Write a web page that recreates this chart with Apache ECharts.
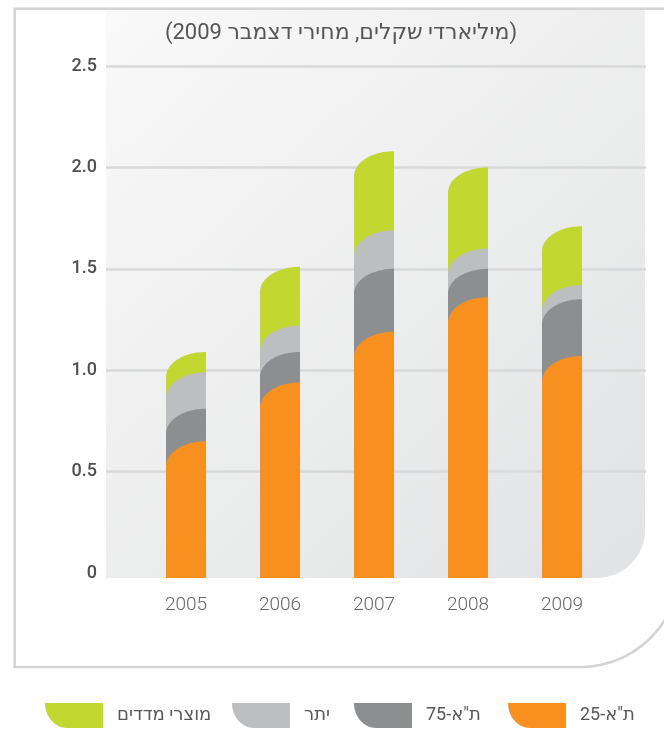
<!DOCTYPE html>
<html>
<head>
<meta charset="utf-8">
<script src="https://cdn.jsdelivr.net/npm/echarts@6/dist/echarts.min.js"></script>
<style>
html,body{margin:0;padding:0;background:#fff;}
#chart{width:664px;height:729px;}
</style>
</head>
<body>
<div id="chart"></div>
<script>
const years = ['2005', '2006', '2007', '2008', '2009'];
const seriesNames = ['מוצרי מדדים', 'יתר', 'ת"א-75', 'ת"א-25'];
const ta25 = [0.65, 0.94, 1.19, 1.36, 1.07];
const ta75 = [0.16, 0.15, 0.31, 0.14, 0.28];
const other = [0.18, 0.13, 0.19, 0.10, 0.07];
const indexProducts = [0.10, 0.29, 0.39, 0.40, 0.29];
const titleText = '(מיליארדי שקלים, מחירי דצמבר 2009)';

const colors = ['#C2D730', '#BDBEC0', '#8D8E90', '#F7901E'];
const FONT = 'Roboto, "DejaVu Sans", sans-serif';

const layers = [ta25, ta75, other, indexProducts];
const cum = [];
let run = years.map(() => 0);
layers.forEach(arr => { run = run.map((v, i) => v + arr[i]); cum.push(run.slice()); });
const seriesTops = [cum[3], cum[2], cum[1], cum[0]];

function renderItem(params, api) {
  const i = api.value(0), top = api.value(1);
  const p = api.coord([i, top]);
  const base = api.coord([i, 0]);
  const band = api.size([1, 0])[0];
  const w = band * 0.425;
  const L = p[0] - w / 2, R = p[0] + w / 2, T = p[1], B = base[1] + 5;
  const d = Math.min(25, B - T);
  const pts = [[L, B], [L, T + d]];
  const N = 24;
  for (let k = 1; k <= N; k++) {
    const th = (Math.PI / 2) * k / N;
    pts.push([R - w * Math.cos(th), T + d - d * Math.sin(th)]);
  }
  pts.push([R, B]);
  return { type: 'polygon', shape: { points: pts }, style: { fill: api.visual('color') } };
}

const series = seriesNames.map((name, s) => ({
  name: name,
  type: 'custom',
  xAxisIndex: 1,
  yAxisIndex: 1,
  renderItem: renderItem,
  itemStyle: { color: colors[s] },
  encode: { x: 0, y: 1 },
  data: years.map((y, i) => [i, seriesTops[s][i]]),
  z: 3 + s
}));

const legendX = [45, 232, 354, 508];
const legends = seriesNames.map((name, s) => ({
  left: legendX[s], top: 703, padding: 0,
  itemWidth: 58, itemHeight: 25,
  icon: 'path://M0,0L58,0L58,25L22,25C10,25,0,14,0,0Z',
  selectedMode: false,
  data: [name],
  textStyle: { fontFamily: FONT, fontSize: 18, color: '#585858', padding: [0, 0, 0, 9] }
}));

const frame = [[700, 8.7], [14.7, 8.7], [14.7, 667], [580, 667]];
for (let k = 1; k <= 30; k++) {
  const th = (Math.PI / 2) * k / 30;
  frame.push([580 + 100 * Math.sin(th), 567 + 100 * Math.cos(th)]);
}

const chart = echarts.init(document.getElementById('chart'), null, { renderer: 'canvas' });
chart.setOption({
  animation: false,
  backgroundColor: '#fff',
  title: {
    text: titleText, left: 341, top: 22, textAlign: 'center', padding: 0,
    textStyle: { fontFamily: FONT, fontSize: 22, fontWeight: 'normal', color: '#555' }
  },
  legend: legends,
  graphic: [
    {
      type: 'polyline', z: -20, silent: true,
      shape: { points: frame },
      style: { fill: null, stroke: '#d4d4d4', lineWidth: 2.6 }
    },
    {
      type: 'rect', z: -19, silent: true,
      shape: { x: 106, y: 10, width: 539, height: 568, r: [0, 0, 48, 0] },
      style: {
        fill: {
          type: 'linear', x: 0, y: 0, x2: 1, y2: 1,
          colorStops: [
            { offset: 0, color: '#f9f9f9' },
            { offset: 1, color: '#e1e2e3' }
          ]
        }
      }
    }
  ],
  grid: [
    { left: 106, right: 18, top: 66, bottom: 156 },
    { left: 139, right: 55, top: 66, bottom: 156 }
  ],
  xAxis: [
    { gridIndex: 0, type: 'value', min: 0, max: 1, show: false },
    {
      gridIndex: 1, type: 'category', data: years,
      axisLine: { show: false }, axisTick: { show: false },
      axisLabel: { color: '#666', fontFamily: FONT, fontSize: 19, fontWeight: 300, margin: 23 }
    }
  ],
  yAxis: [
    {
      gridIndex: 0, type: 'value', min: 0, max: 2.5, interval: 0.5,
      axisLine: { show: false }, axisTick: { show: false },
      axisLabel: {
        color: '#4f4f4f', fontFamily: FONT, fontSize: 18, fontWeight: 500, margin: 9,
        formatter: v => (v === 0 ? '0' : v.toFixed(1))
      },
      splitLine: { lineStyle: { color: ['rgba(0,0,0,0)', '#d8d9da', '#d8d9da', '#d8d9da', '#d8d9da', '#d8d9da'], width: 2.5 } }
    },
    { gridIndex: 1, type: 'value', min: 0, max: 2.5, interval: 0.5, show: false }
  ],
  series: series
});
</script>
</body>
</html>
